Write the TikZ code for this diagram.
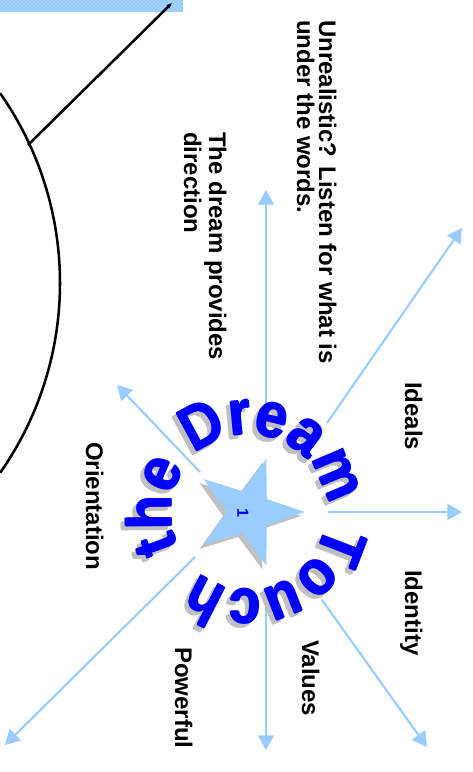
\documentclass[tikz,border=0pt]{standalone}
\usepackage{fontspec}
\setmainfont{Liberation Sans}
\usetikzlibrary{arrows.meta,patterns}
\definecolor{arrowblue}{HTML}{99CCFF}
\definecolor{ringblue}{HTML}{0000FF}
\definecolor{shadowgray}{HTML}{C0C0C0}
\definecolor{bandblue}{HTML}{8EC8FF}
\newcommand\starpath{(0:42pt)--(36:16.5pt)--(72:42pt)--(108:16.5pt)--(144:42pt)--(180:16.5pt)--(216:42pt)--(252:16.5pt)--(288:42pt)--(324:16.5pt)--cycle}
\newcommand\ringletters{t/200.0, h/180.5, e/156.4, D/118.4, r/95.4, e/75.9, a/52.9, m/23.0, T/-21.0, o/-43.8, u/-68.6, c/-92.6, h/-117.0}
\newcommand\thickoffsets{0/0, 0.9/0, -0.9/0, 0/0.9, 0/-0.9}
\begin{document}
\begin{tikzpicture}[x=0.75pt,y=0.75pt,
  lbl/.style={rotate=-90, anchor=base west, inner sep=0pt, font=\fontsize{18pt}{20pt}\selectfont\bfseries},
  ray/.style={draw=arrowblue, line width=1.6pt, -{Triangle[length=11pt,width=12pt]}},
  blackline/.style={draw=black, line width=1.9pt},
  ringletter/.style={anchor=base, inner sep=0pt, font=\fontsize{47pt}{47pt}\selectfont\bfseries}]
\useasboundingbox (0,0) rectangle (472,-772);
% band
\fill[bandblue] (0,0) rectangle (183,-12);
\fill[pattern=crosshatch dots, pattern color=white] (0,0) rectangle (183,-12);
% big arc
\begin{scope}
\clip (0,0) rectangle (472,-772);
\draw[blackline] ([shift={(35:248.1pt)}]-270.8,-283) arc[start angle=35,end angle=-35,radius=248.1pt];
\end{scope}
% black line
\coordinate (lfoot) at (28,-145);
\coordinate (ltop) at (172,-3);
\draw[blackline, -{Latex[length=4pt,width=4pt]}] (lfoot) -- (ltop);
% arrows
\coordinate (upS) at (266,-410);       \coordinate (upE) at (266,-190);
\coordinate (urS) at (327,-423);       \coordinate (urE) at (462,-228);
\coordinate (rS) at (328,-512);        \coordinate (rE) at (462,-512);
\coordinate (drS) at (322,-600);       \coordinate (drE) at (427,-747);
\coordinate (dS) at (266,-600);        \coordinate (dE) at (266,-750);
\coordinate (dlS) at (195,-557);       \coordinate (dlE) at (5,-745);
\coordinate (ulS) at (200,-472);       \coordinate (ulE) at (117,-385);
\draw[ray] (upS) -- (upE);
\draw[ray] (urS) -- (urE);
\draw[ray] (rS) -- (rE);
\draw[ray] (drS) -- (drE);
\draw[ray] (dS) -- (dE);
\draw[ray] (dlS) -- (dlE);
\draw[ray] (ulS) -- (ulE);
% star
\begin{scope}[shift={(245,-516)}]
\fill[shadowgray] \starpath;
\end{scope}
\begin{scope}[shift={(249,-512)}]
\fill[arrowblue] \starpath;
\end{scope}
% ring text: shadow, then letters (slightly emboldened by small offsets)
\foreach \dx/\dy [count=\k] in \thickoffsets {
  \foreach \ch/\ang [count=\i] in \ringletters {
    \node[ringletter, text=shadowgray, rotate=\ang-90] (rs\i-\k) at ([shift={(\ang:58.5pt)}]245+\dx,-516+\dy) {\scalebox{0.9}[1]{\ch}};
  }
}
\foreach \dx/\dy [count=\k] in \thickoffsets {
  \foreach \ch/\ang [count=\i] in \ringletters {
    \node[ringletter, text=ringblue, rotate=\ang-90] (rl\i-\k) at ([shift={(\ang:58.5pt)}]249+\dx,-512+\dy) {\scalebox{0.9}[1]{\ch}};
  }
}
% number
\node[rotate=-90, text=ringblue, inner sep=0pt, font=\fontsize{12pt}{12pt}\selectfont\bfseries] (num) at (243,-513) {1};
% labels
\node[lbl] (ideals) at (405,-382) {Ideals};
\node[lbl] (identity) at (405,-570) {Identity};
\node[lbl] (values) at (302,-640) {Values};
\node[lbl] (powerful) at (175,-647) {Powerful};
\node[lbl] (orient) at (86,-442) {Orientation};
\node[lbl] (unreal1) at (319,-20) {Unrealistic? Listen for what is};
\node[lbl] (unreal2) at (297,-20) {under the words.};
\node[lbl] (dream1) at (209,-132) {The dream provides};
\node[lbl] (dream2) at (184,-132) {direction};
\end{tikzpicture}
\end{document}
